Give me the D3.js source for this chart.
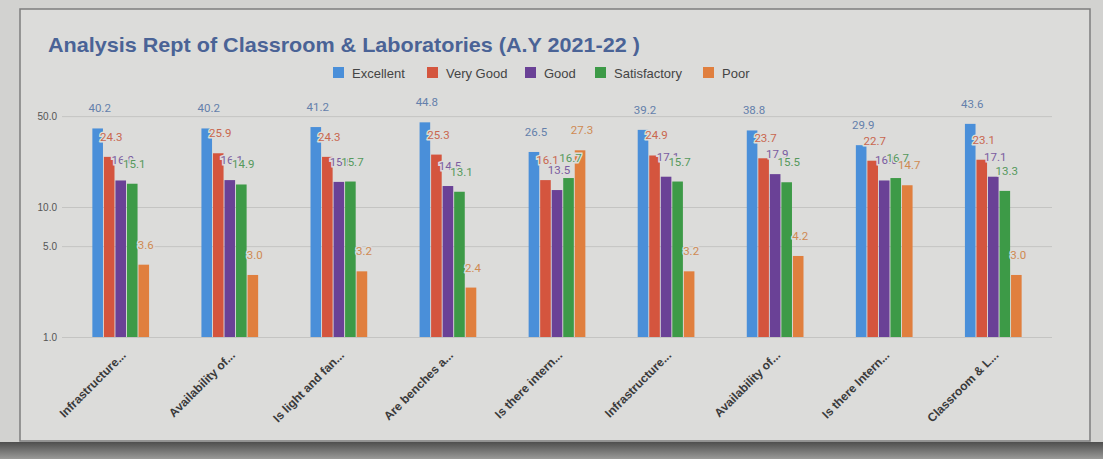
<!DOCTYPE html>
<html>
<head>
<meta charset="utf-8">
<script src="https://cdn.jsdelivr.net/npm/d3@7"></script>
<style>
  html, body { margin: 0; padding: 0; background: #cfcfcd; }
  svg { display: block; }
</style>
</head>
<body>
<svg id="chart" width="1103" height="459"></svg>
<script>
  // data
  var categories = ['Infrastructure...', 'Availability of...', 'Is light and fan...', 'Are benches a...',
    'Is there intern...', 'Infrastructure...', 'Availability of...', 'Is there Intern...', 'Classroom & L...']
  var seriesNames = ['Excellent', 'Very Good', 'Good', 'Satisfactory', 'Poor']
  var excellent    = [40.2, 40.2, 41.2, 44.8, 26.5, 39.2, 38.8, 29.9, 43.6]
  var veryGood     = [24.3, 25.9, 24.3, 25.3, 16.1, 24.9, 23.7, 22.7, 23.1]
  var good         = [16.0, 16.1, 15.6, 14.5, 13.5, 17.1, 17.9, 16.0, 17.1]
  var satisfactory = [15.1, 14.9, 15.7, 13.1, 16.7, 15.7, 15.5, 16.7, 13.3]
  var poor         = [3.6, 3.0, 3.2, 2.4, 27.3, 3.2, 4.2, 14.7, 3.0]
  var yTicks = [1, 5, 10, 50]

  // styles
  var BAR_COLORS = ['#4a8fd9', '#d4553e', '#6a4196', '#3d9a47', '#e07f3e']
  var LABEL_COLORS = ['#6480ab', '#c9674f', '#7a5ba0', '#55995c', '#cf8a52']
  var PAPER = '#dcdcda'
  var W = 1103, H = 459

  var values = [excellent, veryGood, good, satisfactory, poor]
  var svg = d3.select('#chart')

  // paper + frame
  svg.append('rect').attr('x', 0).attr('y', 0).attr('width', W).attr('height', H).attr('fill', '#d2d2d0')
  svg.append('rect').attr('x', 20).attr('y', 9).attr('width', 1070).attr('height', 432)
    .attr('fill', PAPER).attr('stroke', '#7d7d7d').attr('stroke-width', 1.5)
  var shade = svg.append('defs').append('linearGradient').attr('id', 'shade')
    .attr('x1', 0).attr('y1', 0).attr('x2', 0).attr('y2', 1)
  shade.append('stop').attr('offset', 0).attr('stop-color', '#4e4e4e')
  shade.append('stop').attr('offset', 1).attr('stop-color', '#9a9a98')
  svg.append('rect').attr('x', 0).attr('y', 442).attr('width', W).attr('height', 17).attr('fill', 'url(#shade)')

  // title
  svg.append('text')
    .attr('x', 48).attr('y', 52)
    .attr('font-family', 'Liberation Sans, Arial, sans-serif')
    .attr('font-size', 21).attr('font-weight', 'bold')
    .attr('fill', '#4a6396')
    .attr('textLength', 592).attr('lengthAdjust', 'spacingAndGlyphs')
    .text('Analysis Rept of Classroom & Laboratories (A.Y  2021-22 )')

  // legend
  var legendX = [333, 427, 525, 595, 703]
  var legend = svg.append('g').attr('font-family', 'Liberation Sans, Arial, sans-serif').attr('font-size', 13)
  seriesNames.forEach(function (name, i) {
    legend.append('rect').attr('x', legendX[i]).attr('y', 67).attr('width', 11).attr('height', 11)
      .attr('fill', BAR_COLORS[i])
    legend.append('text').attr('x', legendX[i] + 19).attr('y', 77.5).attr('fill', '#444')
      .text(name)
  })

  // scales
  var x = d3.scaleBand()
    .domain(d3.range(categories.length))
    .range([64, 1050])
    .paddingInner(0.48)
    .paddingOuter(0.26)
  var xs = d3.scaleBand()
    .domain(d3.range(seriesNames.length))
    .range([0, x.bandwidth()])
    .paddingInner(0.08)
  var y = d3.scaleLog()
    .domain([1, 100])
    .range([337, 77])

  // grid + y axis
  var yAxis = svg.append('g')
    .attr('transform', 'translate(62,0)')
    .call(d3.axisLeft(y).tickValues(yTicks).tickFormat(d3.format('.1f')).tickSize(-990))
  yAxis.select('.domain').remove()
  yAxis.selectAll('.tick line').attr('stroke', '#c4c4c2').attr('stroke-width', 1)
  yAxis.selectAll('.tick text')
    .attr('x', -5)
    .attr('font-family', 'Liberation Sans, Arial, sans-serif')
    .attr('font-size', 10).attr('fill', '#555')

  // bars
  var groups = svg.append('g').selectAll('g')
    .data(categories)
    .join('g')
    .attr('transform', function (d, i) { return 'translate(' + x(i) + ',0)' })

  groups.selectAll('rect')
    .data(function (d, i) { return values.map(function (s) { return s[i] }) })
    .join('rect')
    .attr('x', function (d, j) { return xs(j) })
    .attr('y', function (d) { return y(d) })
    .attr('width', xs.bandwidth())
    .attr('height', function (d) { return y(1) - y(d) })
    .attr('fill', function (d, j) { return BAR_COLORS[j] })

  // data labels, drawn after all bars so they sit on top
  var labels = svg.append('g')
    .attr('font-family', 'Roboto, Liberation Sans, Arial, sans-serif')
    .attr('font-size', 11.5)
    .attr('text-anchor', 'middle')
  categories.forEach(function (c, i) {
    values.forEach(function (s, j) {
      labels.append('text')
        .attr('x', x(i) + xs(j) + xs.bandwidth() / 2 + 2)
        .attr('y', y(s[i]) - 16)
        .attr('fill', LABEL_COLORS[j])
        .attr('stroke', PAPER).attr('stroke-width', 3)
        .attr('paint-order', 'stroke')
        .text(d3.format('.1f')(s[i]))
    })
  })

  // x labels
  svg.append('g').selectAll('text')
    .data(categories)
    .join('text')
    .attr('transform', function (d, i) {
      return 'translate(' + (x(i) + x.bandwidth() / 2 + 6) + ',356) rotate(-45)'
    })
    .attr('text-anchor', 'end')
    .attr('font-family', 'Liberation Sans, Arial, sans-serif')
    .attr('font-size', 12).attr('font-weight', 'bold')
    .attr('fill', '#3a3a3a')
    .text(function (d) { return d })
</script>
</body>
</html>
